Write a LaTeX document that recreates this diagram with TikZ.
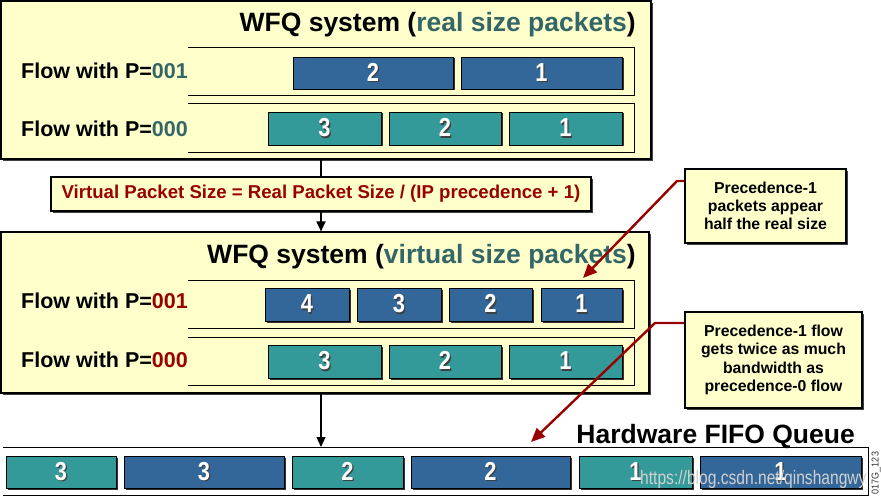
\documentclass[tikz,border=0pt]{standalone}
\usepackage{fontspec}
\setmainfont{Liberation Sans}
\usetikzlibrary{arrows.meta,shadows}
\definecolor{bgyellow}{HTML}{FFFFCC}
\definecolor{pktblue}{HTML}{336699}
\definecolor{pktteal}{HTML}{339999}
\definecolor{titleteal}{HTML}{336666}
\definecolor{darkred}{HTML}{990000}
\newcommand\pktdigit[1]{\scalebox{0.95}[1.13]{\makebox[0pt][l]{\hspace{1.2pt}\raisebox{-1.2pt}{\color{black!75}#1}}#1}}
\newcommand\pktbox[7]{\node[pkt,fill=#2,minimum width={#5-#3},minimum height={#6-#4}] (#1) at ({(#3+#5)/2},{(#4+#6)/2}) {\pktdigit{#7}};}
\begin{document}
\begin{tikzpicture}[x=1pt,y=-1pt,
  shadowed/.style={drop shadow={shadow xshift=2pt,shadow yshift=-2pt,fill=black!75,opacity=1}},
  bigbox/.style={draw=black,line width=1.1pt,fill=bgyellow,shadowed,inner sep=0pt},
  pkt/.style={draw=black,line width=0.9pt,inner sep=0pt,text=white,
    font=\fontsize{23}{23}\selectfont\bfseries,
    drop shadow={shadow xshift=1.5pt,shadow yshift=-1.5pt,fill=black!80,opacity=1}},
  rowframe/.style={draw=black,line width=1pt},
  flowlbl/.style={anchor=base west,inner sep=0pt,font=\fontsize{21.5}{24}\selectfont\bfseries},
  titlelbl/.style={anchor=base east,inner sep=0pt,font=\fontsize{26.5}{30}\selectfont\bfseries},
  callout/.style={bigbox,align=center,font=\fontsize{15.8}{18.3}\selectfont\bfseries},
  flowarrow/.style={draw=black,line width=1.2pt,-{Triangle[length=10pt,width=9pt]}},
  redarrow/.style={draw=darkred,line width=2.4pt,line join=round,-{Triangle[length=14pt,width=12pt]}}
]
\useasboundingbox (0,0) rectangle (881,497);
\fill[white] (0,0) rectangle (881,497);

% ---------- top WFQ system ----------
\node[bigbox,minimum width=650pt,minimum height=158pt] (sys1) at (326,80) {};
\node[titlelbl] (t1) at (636,32) {WFQ system (\textcolor{titleteal}{real size packets})};
\draw[rowframe] (188,48) -- (634,48) -- (634,96) -- (188,96);
\draw[rowframe] (188,104) -- (634,104) -- (634,153) -- (188,153);
\node[flowlbl] (f1) at (21,79) {Flow with P=\textcolor{titleteal}{001}};
\node[flowlbl] (f2) at (21,137) {Flow with P=\textcolor{titleteal}{000}};
\pktbox{a2}{pktblue}{293}{57}{453}{89}{2}
\pktbox{a1}{pktblue}{461}{57}{622}{89}{1}
\pktbox{b3}{pktteal}{268}{112}{381}{145}{3}
\pktbox{b2}{pktteal}{389}{112}{501}{145}{2}
\pktbox{b1}{pktteal}{509}{112}{622}{145}{1}

% ---------- formula ----------
\node[bigbox,minimum width=540pt,minimum height=34pt,text=darkred,
  font=\fontsize{18.6}{20}\selectfont\bfseries] (form) at (321,194)
  {Virtual Packet Size = Real Packet Size / (IP precedence + 1)};
\draw[draw=black,line width=1.2pt] (sys1.south -| form.north) -- (form.north);

% ---------- second WFQ system ----------
\node[bigbox,minimum width=648pt,minimum height=161pt] (sys2) at (325,312.5) {};
\draw[flowarrow] (form.south) -- (sys2.north -| form.south);
\node[titlelbl] (t2) at (636,263) {WFQ system (\textcolor{titleteal}{virtual size packets})};
\draw[rowframe] (188,280) -- (634,280) -- (634,328) -- (188,328);
\draw[rowframe] (188,337) -- (634,337) -- (634,385) -- (188,385);
\node[flowlbl] (f3) at (21,308) {Flow with P=\textcolor{darkred}{001}};
\node[flowlbl] (f4) at (21,367) {Flow with P=\textcolor{darkred}{000}};
\pktbox{c4}{pktblue}{265}{288}{349}{321}{4}
\pktbox{c3}{pktblue}{357}{288}{441}{321}{3}
\pktbox{c2}{pktblue}{449}{288}{532}{321}{2}
\pktbox{c1}{pktblue}{541}{288}{622}{321}{1}
\pktbox{d3}{pktteal}{268}{345}{381}{378}{3}
\pktbox{d2}{pktteal}{389}{345}{501}{378}{2}
\pktbox{d1}{pktteal}{509}{345}{622}{378}{1}

% ---------- hardware queue ----------
\node[titlelbl] (t3) at (855,443) {Hardware FIFO Queue};
\draw[rowframe] (3,447) -- (868,447) -- (868,495) -- (3,495);
\coordinate (hwq) at (321,447);
\draw[flowarrow] (sys2.south -| form.south) -- (hwq);
\pktbox{h6}{pktteal}{6}{456}{116}{488}{3}
\pktbox{h5}{pktblue}{124}{456}{284}{488}{3}
\pktbox{h4}{pktteal}{292}{456}{403}{488}{2}
\pktbox{h3}{pktblue}{411}{456}{570}{488}{2}
\pktbox{h2}{pktteal}{579}{456}{692}{488}{1}
\pktbox{h1}{pktblue}{700}{456}{861}{488}{1}

% ---------- callouts ----------
\node[callout,minimum width=161pt,minimum height=74pt] (n1) at (765.5,206)
  {Precedence-1\\packets appear\\half the real size};
\node[callout,minimum width=177pt,minimum height=96pt] (n2) at (773.5,360)
  {Precedence-1 flow\\gets twice as much\\bandwidth as\\precedence-0 flow};
\coordinate (r1a) at (677,181);
\coordinate (r1tip) at (583,278);
\coordinate (r2a) at (655,323);
\coordinate (r2tip) at (531,442);
\draw[redarrow] (n1.west |- r1a) -- (r1a) -- (r1tip);
\draw[redarrow] (n2.west |- r2a) -- (r2a) -- (r2tip);

% ---------- watermark / code ----------
\node[anchor=base west,inner sep=0pt,text=black!18,font=\fontsize{19.5}{20}\selectfont] (wm) at (640,484)
  {\scalebox{0.8}[1]{https://blog.csdn.net/qinshangwy}};
\node[rotate=90,inner sep=0pt,text=black!80,font=\fontsize{10}{10}\selectfont] (code) at (876,473) {\scalebox{0.9}[1]{017G\_123}};
\end{tikzpicture}
\end{document}
